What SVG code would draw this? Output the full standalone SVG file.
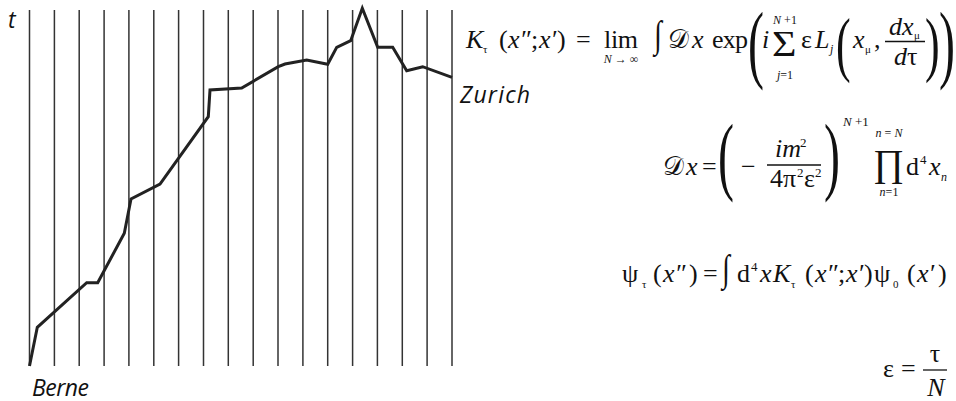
<svg xmlns="http://www.w3.org/2000/svg" width="956" height="401" viewBox="0 0 956 401">
<style>
.grid line{stroke:#333;stroke-width:1.5}
.path{fill:none;stroke:#222;stroke-width:3;stroke-linejoin:miter}
.lbl{font-family:"Open Sans","Noto Sans",sans-serif;font-style:italic;font-size:23px;fill:#111}
.m{font-family:"Liberation Serif","Times New Roman",serif;font-size:26px;fill:#111}
.i{font-style:italic}
.s{font-size:12px}
.c{text-anchor:middle}
.bp{font-size:48px}
.mp{font-size:44px}
.fl{stroke:#111;stroke-width:1.3}
</style>
<g id="plot">
<g class="grid">
<line x1="29.5" y1="10" x2="29.5" y2="366"/><line x1="54.4" y1="10" x2="54.4" y2="366"/><line x1="79.2" y1="10" x2="79.2" y2="366"/><line x1="104.1" y1="10" x2="104.1" y2="366"/><line x1="128.9" y1="10" x2="128.9" y2="366"/><line x1="153.8" y1="10" x2="153.8" y2="366"/><line x1="178.6" y1="10" x2="178.6" y2="366"/><line x1="203.5" y1="10" x2="203.5" y2="366"/><line x1="228.3" y1="10" x2="228.3" y2="366"/><line x1="253.2" y1="10" x2="253.2" y2="366"/><line x1="278" y1="10" x2="278" y2="366"/><line x1="302.9" y1="10" x2="302.9" y2="366"/><line x1="327.7" y1="10" x2="327.7" y2="366"/><line x1="352.6" y1="10" x2="352.6" y2="366"/><line x1="377.4" y1="10" x2="377.4" y2="366"/><line x1="402.3" y1="10" x2="402.3" y2="366"/><line x1="427.1" y1="10" x2="427.1" y2="366"/><line x1="452" y1="10" x2="452" y2="366"/>
</g>
<polyline class="path" points="29.5,366 37.3,327.3 86.7,282.7 97.7,282.7 124.3,233.3 131,199 160,184 208.3,116.7 210,90 241.7,88 278.3,66.7 285,64 306.7,60 327.7,64.3 336.7,47.3 350.7,40.7 362.3,8.3 377.7,47.3 392.7,47.3 406.7,70.7 422.7,66.7 452,77.3"/>
<text class="lbl" x="8" y="28" font-size="24">t</text>
<text id="berne" class="lbl" x="32" y="396" textLength="57">Berne</text>
<text id="zurich" class="lbl" x="460" y="103" textLength="70">Zurich</text>
</g>
<g id="eq1" class="m">
<text class="i" x="466" y="48">K</text>
<text x="483" y="53" font-size="11">τ</text>
<text x="499" y="48">(</text>
<text class="i" x="508" y="48">x″</text>
<text x="531" y="48">;</text>
<text class="i" x="539" y="48">x′</text>
<text x="557" y="48">)</text>
<text x="576" y="48">=</text>
<text x="604" y="48" textLength="34">lim</text>
<text class="s c" x="621" y="63"><tspan class="i">N</tspan> → ∞</text>
<text font-size="28" transform="translate(654,47) scale(1,1.35)">∫</text>
<text x="668" y="48">𝒟</text>
<text class="i" x="692" y="48">x</text>
<text x="712" y="48" textLength="36">exp</text>
<text class="bp" transform="translate(748,72.3) scale(1,1.823)">(</text>
<text class="i" x="762" y="48">i</text>
<text font-size="35" transform="translate(772,56) scale(1.2,1)">Σ</text>
<text class="s c" x="785" y="24"><tspan class="i">N</tspan> +1</text>
<text class="s c" x="785" y="79"><tspan class="i">j</tspan>=1</text>
<text x="801" y="48">ε</text>
<text class="i" x="815" y="48">L</text>
<text class="s i" x="830" y="53">j</text>
<text class="mp" transform="translate(836,67.9) scale(1,1.653)">(</text>
<text class="i" x="853" y="48">x</text>
<text x="865" y="53" font-size="11">μ</text>
<text x="874" y="48">,</text>
<text class="i" x="889" y="35">dx</text>
<text x="914" y="39" font-size="11">μ</text>
<line class="fl" x1="885" y1="41.5" x2="925" y2="41.5"/>
<text x="894" y="65"><tspan class="i">d</tspan>τ</text>
<text class="mp" transform="translate(925,67.9) scale(1,1.653)">)</text>
<text class="bp" transform="translate(939,72.3) scale(1,1.823)">)</text>
</g>
<g id="eq2" class="m">
<text x="663" y="175">𝒟</text>
<text class="i" x="686" y="175">x</text>
<text x="702" y="175">=</text>
<text class="bp" transform="translate(718,184.3) scale(1,1.823)">(</text>
<text x="741" y="175">−</text>
<text class="i" x="775" y="157">im</text>
<text x="800" y="147" font-size="13">2</text>
<line class="fl" x1="767" y1="165" x2="821" y2="165"/>
<text x="770" y="187">4π</text>
<text x="797" y="177" font-size="13">2</text>
<text x="804" y="187">ε</text>
<text x="815" y="177" font-size="13">2</text>
<text class="bp" transform="translate(824,184.3) scale(1,1.823)">)</text>
<text x="843" y="126" font-size="13"><tspan class="i">N</tspan> +1</text>
<text x="873" y="176" font-size="38">∏</text>
<text class="s c" x="889" y="137"><tspan class="i">n</tspan> = <tspan class="i">N</tspan></text>
<text class="s c" x="889" y="196"><tspan class="i">n</tspan>=1</text>
<text x="906" y="175">d</text>
<text x="920" y="164" font-size="13">4</text>
<text class="i" x="929" y="175">x</text>
<text class="s i" x="941" y="181">n</text>
</g>
<g id="eq3" class="m">
<text x="622" y="282">ψ</text>
<text x="642" y="288" font-size="11">τ</text>
<text x="653" y="282">(</text>
<text class="i" x="663" y="282">x″</text>
<text x="689" y="282">)</text>
<text x="703" y="282">=</text>
<text font-size="28" transform="translate(722,281) scale(1,1.35)">∫</text>
<text x="737" y="282">d</text>
<text x="751" y="271" font-size="13">4</text>
<text class="i" x="760" y="282">x</text>
<text class="i" x="773" y="282">K</text>
<text x="791" y="288" font-size="11">τ</text>
<text x="805" y="282">(</text>
<text class="i" x="815" y="282">x″</text>
<text x="838" y="282">;</text>
<text class="i" x="846" y="282">x′</text>
<text x="864" y="282">)</text>
<text x="874" y="282">ψ</text>
<text x="893" y="288" font-size="11">0</text>
<text x="907" y="282">(</text>
<text class="i" x="917" y="282">x′</text>
<text x="938" y="282">)</text>
</g>
<g id="eq4" class="m">
<text x="883" y="377">ε</text>
<text x="901" y="377">=</text>
<text class="c" x="935" y="362">τ</text>
<line class="fl" x1="923" y1="370" x2="947" y2="370"/>
<text class="c i" x="936" y="396">N</text>
</g>
</svg>
